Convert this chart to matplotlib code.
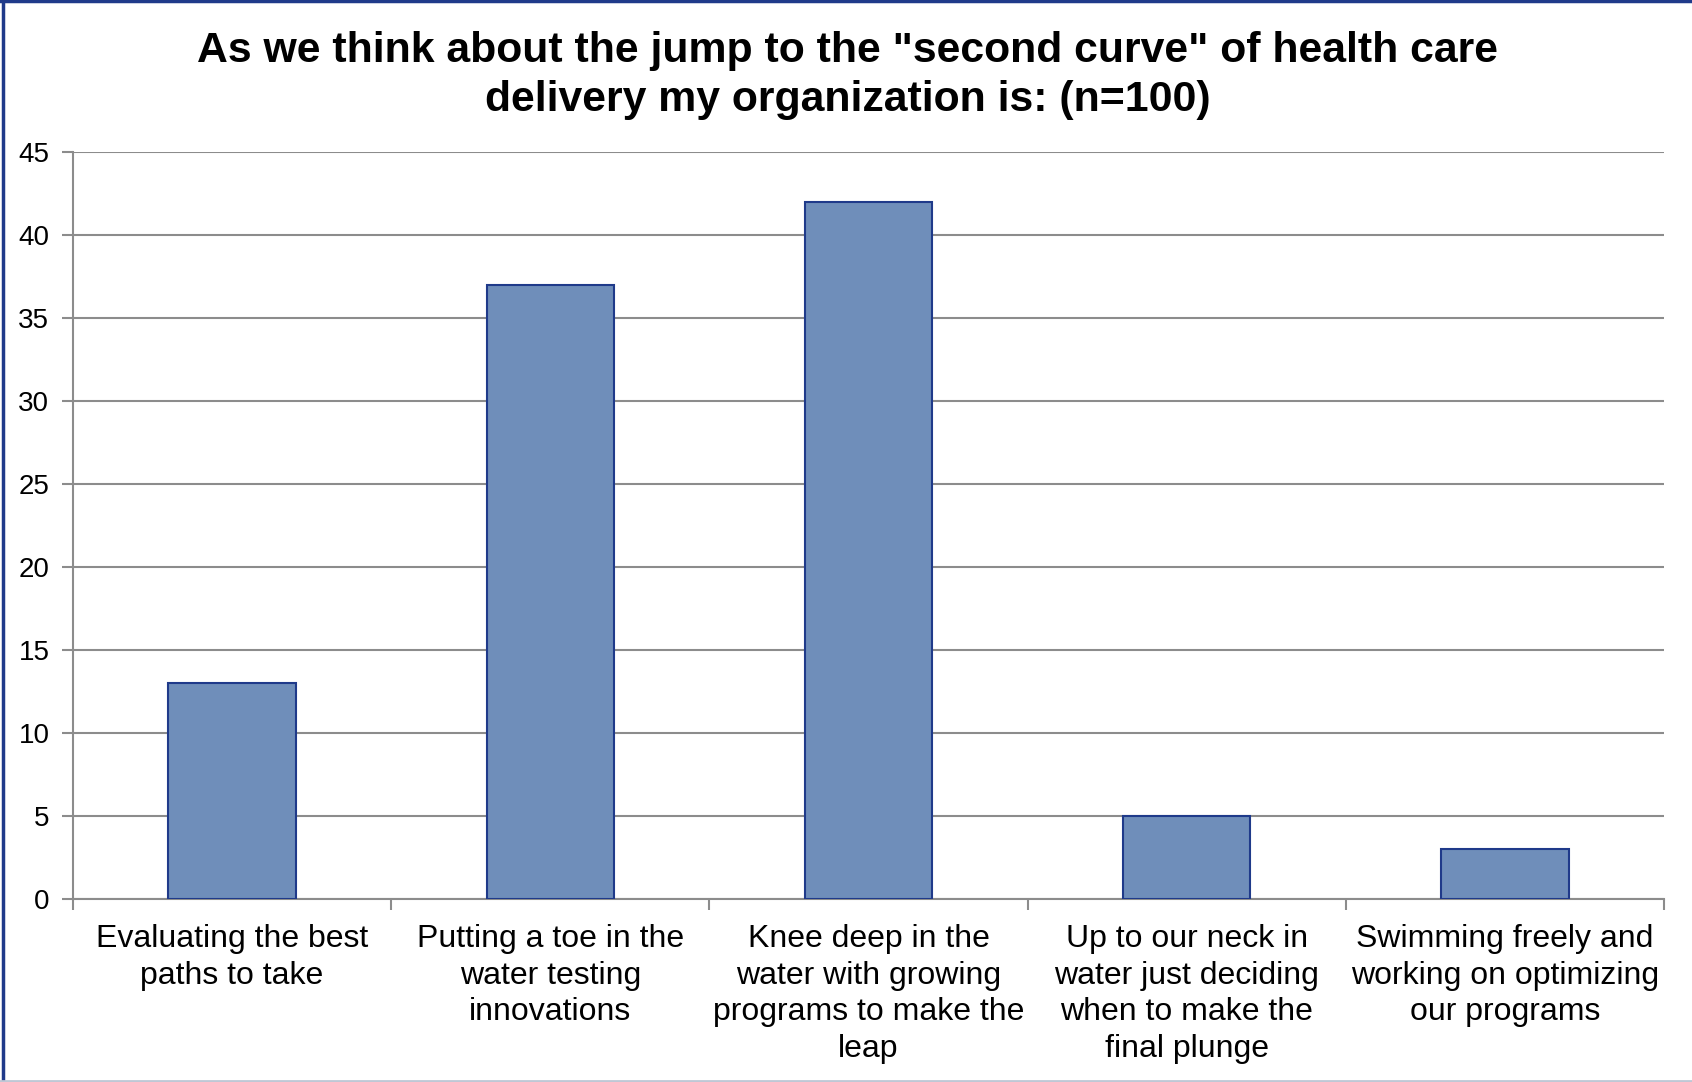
import matplotlib.pyplot as plt
from matplotlib.lines import Line2D

# survey answers and counts (n=100)
categories = [
    "Evaluating the best\npaths to take",
    "Putting a toe in the\nwater testing\ninnovations",
    "Knee deep in the\nwater with growing\nprograms to make the\nleap",
    "Up to our neck in\nwater just deciding\nwhen to make the\nfinal plunge",
    "Swimming freely and\nworking on optimizing\nour programs",
]
counts = [13, 37, 42, 5, 3]
y_ticks = [0, 5, 10, 15, 20, 25, 30, 35, 40, 45]
title = 'As we think about the jump to the "second curve" of health care\ndelivery my organization is: (n=100)'

plt.rcParams['font.family'] = ['Liberation Sans', 'DejaVu Sans']

fig = plt.figure(figsize=(16.92, 10.82), dpi=100)
ax = fig.add_axes([73 / 1692, 183 / 1082, (1664 - 73) / 1692, (899 - 152) / 1082])

x = list(range(len(categories)))
ax.bar(x, counts, width=0.4, color='#6F8EBA', edgecolor='#1F3A8A', linewidth=1.5, zorder=3)

ax.set_xlim(-0.5, len(categories) - 0.5)
ax.set_ylim(0, 45)
ax.set_yticks(y_ticks)
ax.set_yticklabels([str(v) for v in y_ticks], fontsize=20)
ax.tick_params(axis='y', length=8, width=1.5, color='#8C8C8C', pad=9)

# labels at centres, tick marks at category boundaries
ax.set_xticks(x)
ax.set_xticklabels(categories, fontsize=23, linespacing=1.29)
ax.tick_params(axis='x', length=0, pad=18)
ax.set_xticks([i - 0.5 for i in range(len(categories) + 1)], minor=True)
ax.tick_params(axis='x', which='minor', length=8, width=1.5, color='#8C8C8C')

ax.grid(axis='y', color='#8C8C8C', linewidth=1.5, zorder=0)
ax.set_axisbelow(True)
for s in ['top', 'right']:
    ax.spines[s].set_visible(False)
for s in ['left', 'bottom']:
    ax.spines[s].set_color('#8C8C8C')
    ax.spines[s].set_linewidth(1.5)

fig.text(0.501, 1 - 31 / 1082, title, ha='center', va='top', fontsize=30.8,
         fontweight='bold', linespacing=1.3)

# outer frame: blue on left and top, light grey at bottom
fig.add_artist(Line2D([2.5 / 1692, 2.5 / 1692], [0, 1], color='#1F3A8A', linewidth=2.5))
fig.add_artist(Line2D([0, 1], [1 - 1 / 1082, 1 - 1 / 1082], color='#1F3A8A', linewidth=2.5))
fig.add_artist(Line2D([0, 1], [1.5 / 1082, 1.5 / 1082], color='#BFC7D5', linewidth=2))

fig.savefig('out.png', dpi=100)
